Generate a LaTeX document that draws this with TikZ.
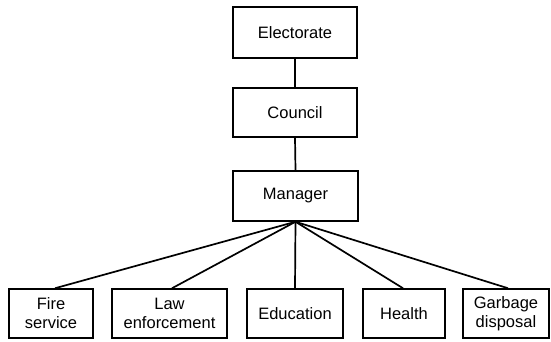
\documentclass[tikz,border=0pt]{standalone}
\usepackage{fontspec}
\setmainfont{Liberation Sans}
\begin{document}
\begin{tikzpicture}[x=1pt,y=-1pt,
  box/.style={draw, line width=1.5pt, inner sep=0pt, align=center, font=\fontsize{16.5}{19}\selectfont},
  link/.style={line width=1.7pt}]
\useasboundingbox (0,0) rectangle (551,342);
\node[box, minimum width=124pt, minimum height=51pt] (elec) at (295,32.5) {Electorate};
\node[box, minimum width=124pt, minimum height=49pt] (coun) at (295,112.5) {Council};
\node[box, minimum width=125pt, minimum height=50pt] (man) at (295.5,196) {Manager};
\node[box, minimum width=84pt, minimum height=49pt] (fire) at (51,313.5) {Fire\\service};
\node[box, minimum width=115pt, minimum height=49pt] (law) at (169.5,313.5) {Law\\enforcement};
\node[box, minimum width=96pt, minimum height=49pt] (edu) at (295,313.5) {Education};
\node[box, minimum width=82pt, minimum height=49pt] (hea) at (404,313.5) {Health};
\node[box, minimum width=86pt, minimum height=49pt] (gar) at (506,313.5) {Garbage\\disposal};
\draw[link] (elec.south) -- (coun.north);
\draw[link] (coun.south) -- (man.north);
\coordinate (hub) at (man.south);
\draw[link] (hub) -- ([xshift=4pt]fire.north);
\draw[link] (hub) -- ([xshift=2.5pt]law.north);
\draw[link] (hub) -- (edu.north);
\draw[link] (hub) -- ([xshift=-1pt]hea.north);
\draw[link] (hub) -- ([xshift=2pt]gar.north);
\end{tikzpicture}
\end{document}
